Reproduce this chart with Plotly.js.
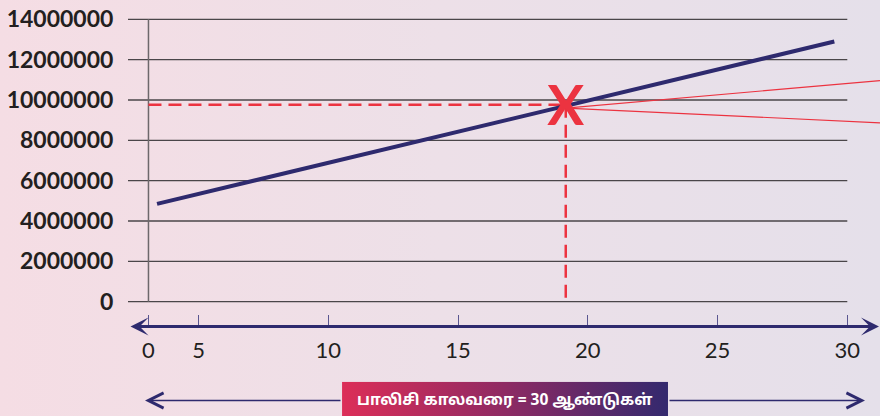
<!DOCTYPE html>
<html>
<head>
<meta charset="utf-8">
<script src="https://cdn.plot.ly/plotly-3.0.1.min.js"></script>
<style>
  html, body { margin: 0; padding: 0; }
  body { width: 880px; height: 416px; overflow: hidden;
         background: linear-gradient(to right, #f5dde4 0%, #ede0e8 50%, #e5e0ea 100%); }
  #chart { width: 880px; height: 416px; }
</style>
</head>
<body>
<div id="chart"></div>
<script>
// ---- data ----
const xTickVals = [3.07, 5, 10, 15, 20, 25, 30];
const xTickText = ['0', '5', '10', '15', '20', '25', '30'];
const yTickVals = [0, 2000000, 4000000, 6000000, 8000000, 10000000, 12000000, 14000000];
const yTickText = ['0', '2000000', '4000000', '6000000', '8000000', '10000000', '12000000', '14000000'];
const lineX = [3.4, 29.5];
const lineY = [4850000, 12900000];
const crossX = 19.15;
const crossY = 9450000;
const guideY = 9770000;
const fanX = [19.15, 31.26];
const fanUpperY = [9600000, 10960000];
const fanLowerY = [9600000, 8870000];
const axisStartX = 3.07;
const boxX = [10.53, 23.09];
const boxLabel = 'பாலிசி காலவரை = 30 ஆண்டுகள்';

// ---- styles ----
const navy = '#2e2a6e';
const red = '#ec3340';
const xRange = [2.281, 31.26];
const yRange = [-1229600, 14958000];
const W = 880, H = 416, L = 128;
const px = v => (v - L) / (W - L);       // pixel x -> paper x
const py = v => (H - v) / H;             // pixel y -> paper y

const traces = [
  { x: [axisStartX, crossX], y: [guideY, guideY], mode: 'lines',
    line: { color: red, width: 2.5, dash: '13px,7px' }, hoverinfo: 'skip' },
  { x: [crossX, crossX], y: [guideY, 0], mode: 'lines',
    line: { color: red, width: 2.5, dash: '13px,7px' }, hoverinfo: 'skip' },
  { x: fanX, y: fanUpperY, mode: 'lines', line: { color: red, width: 1.2 }, hoverinfo: 'skip' },
  { x: fanX, y: fanLowerY, mode: 'lines', line: { color: red, width: 1.2 }, hoverinfo: 'skip' },
  { x: lineX, y: lineY, mode: 'lines', line: { color: navy, width: 4 }, hoverinfo: 'skip' },
  { x: [crossX], y: [crossY], mode: 'text', text: ['X'], textposition: 'middle center',
    textfont: { family: 'Lato', size: 55, color: red, weight: 'bold' }, hoverinfo: 'skip' },
  { x: [boxX[0], boxX[1], boxX[1], boxX[0], boxX[0]], y: [0, 0, 1, 1, 0],
    xaxis: 'x2', yaxis: 'y2', mode: 'lines', line: { width: 0 }, fill: 'toself',
    fillgradient: { type: 'horizontal', colorscale: [[0, '#dc2e58'], [0.5, '#8e2a63'], [1, '#33296e']] },
    hoverinfo: 'skip' }
];

const shapes = yTickVals.map(v => ({
  type: 'line', xref: 'x', yref: 'y', x0: xRange[0], x1: 30, y0: v, y1: v,
  line: { color: '#4a4649', width: 1.3 }, layer: 'below'
}));
shapes.push({ type: 'line', xref: 'x', yref: 'y', x0: axisStartX, x1: axisStartX, y0: 0, y1: 14000000,
  line: { color: '#6d686b', width: 1.5 }, layer: 'below' });

const annotations = [
  // x axis double arrow
  { xref: 'paper', yref: 'paper', x: px(881), y: py(326.5), ax: 129 - 881, ay: 0,
    axref: 'pixel', ayref: 'pixel', text: '', showarrow: true, arrowside: 'end+start',
    arrowhead: 3, startarrowhead: 3, arrowsize: 1, startarrowsize: 1, arrowwidth: 3, arrowcolor: navy },
  // bottom span arrows
  { xref: 'paper', yref: 'paper', x: px(145), y: py(400.5), ax: 342 - 145, ay: 0,
    text: '', showarrow: true, arrowhead: 5, arrowsize: 2, arrowwidth: 1.5, arrowcolor: navy },
  { xref: 'paper', yref: 'paper', x: px(865), y: py(400.5), ax: 668 - 865, ay: 0,
    text: '', showarrow: true, arrowhead: 5, arrowsize: 2, arrowwidth: 1.5, arrowcolor: navy },
  { xref: 'paper', yref: 'paper', x: px(504), y: py(401), xanchor: 'center', yanchor: 'middle',
    text: '<b>' + boxLabel + '</b>', showarrow: false,
    font: { family: 'Noto Sans Tamil, Noto Sans, Lato, sans-serif', size: 15.5, color: '#ffffff' } }
];

const layout = {
  width: W, height: H,
  margin: { l: L, r: 0, t: 0, b: 0, pad: 0 },
  paper_bgcolor: 'rgba(0,0,0,0)', plot_bgcolor: 'rgba(0,0,0,0)',
  showlegend: false,
  xaxis: { range: xRange, domain: [0, 1], anchor: 'y', showgrid: false, zeroline: false, showline: false,
    tickmode: 'array', tickvals: xTickVals, ticktext: xTickText,
    ticks: 'inside', ticklen: 12, tickwidth: 1, tickcolor: '#5a5690',
    tickfont: { family: 'Lato', size: 22, color: '#231f20' }, ticklabelstandoff: 8 },
  yaxis: { range: yRange, domain: [py(326.5), 1], anchor: 'x', showgrid: false, zeroline: false, showline: false,
    tickmode: 'array', tickvals: yTickVals, ticktext: yTickText,
    ticks: 'outside', ticklen: 9, tickcolor: 'rgba(0,0,0,0)',
    tickfont: { family: 'Lato', size: 23, color: '#231f20', weight: 'bold' } },
  xaxis2: { range: xRange, domain: [0, 1], anchor: 'y2', visible: false },
  yaxis2: { range: [0, 1], domain: [0, py(381.7)], anchor: 'x2', visible: false },
  shapes: shapes,
  annotations: annotations
};

Plotly.newPlot('chart', traces, layout, { staticPlot: true, displayModeBar: false });
</script>
</body>
</html>
